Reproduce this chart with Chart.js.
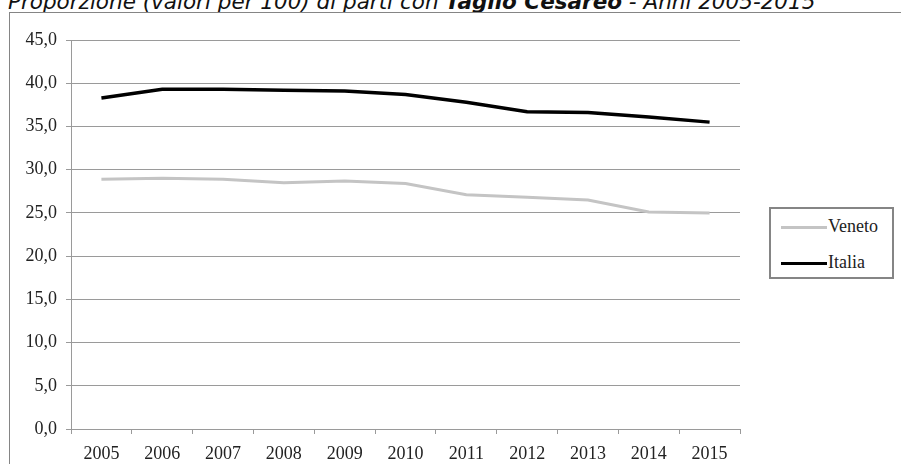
<!DOCTYPE html>
<html>
<head>
<meta charset="utf-8">
<script src="https://cdn.jsdelivr.net/npm/chart.js@4.4.1/dist/chart.umd.min.js"></script>
<style>
  html, body { margin: 0; padding: 0; background: #fff; }
  #wrap { position: relative; width: 901px; height: 464px; overflow: hidden; background: #fff; }
  #title { position: absolute; left: 8px; top: -11px; line-height: 25px; font-family: "DejaVu Sans", Verdana, sans-serif; font-style: italic; font-size: 21.5px; color: #111; white-space: nowrap; }
  #title b { font-weight: bold; }
  #frame { position: absolute; left: 9px; top: 12px; width: 1000px; height: 1000px; border: 1px solid #858585; box-sizing: border-box; }
  #chart { position: absolute; left: 0; top: 0; }
  #legend { position: absolute; left: 769px; top: 207px; width: 125px; height: 72px; border: 2px solid #858585; box-sizing: border-box; background: #fff; font-family: "Liberation Serif", "Times New Roman", serif; font-size: 18px; color: #222; }
  .item { position: absolute; left: 10px; height: 20px; line-height: 20px; white-space: nowrap; }
  .item span.sw { display: inline-block; width: 46px; vertical-align: middle; margin-right: 1px; }
</style>
</head>
<body>
<div id="wrap">
  <div id="title">Proporzione (valori per 100) di parti con <b>Taglio Cesareo</b> - Anni 2005-2015</div>
  <div id="frame"></div>
  <canvas id="chart" width="901" height="464"></canvas>
  <div id="legend"></div>
</div>
<script>
// data
const years = ['2005', '2006', '2007', '2008', '2009', '2010', '2011', '2012', '2013', '2014', '2015'];
const veneto = [28.9, 29.0, 28.9, 28.5, 28.7, 28.4, 27.1, 26.8, 26.5, 25.1, 25.0];
const italia = [38.3, 39.3, 39.3, 39.2, 39.1, 38.7, 37.8, 36.7, 36.6, 36.1, 35.5];
const yTickLabels = ['0,0', '5,0', '10,0', '15,0', '20,0', '25,0', '30,0', '35,0', '40,0', '45,0'];

const gridGray = '#9a9a9a';
const tickFont = { family: 'Liberation Serif', size: 18 };

const chart = new Chart(document.getElementById('chart'), {
    type: 'line',
    data: {
        labels: years,
        datasets: [
            { label: 'Veneto', data: veneto, borderColor: '#c4c4c4', borderWidth: 3, pointRadius: 0, tension: 0, fill: false },
            { label: 'Italia', data: italia, borderColor: '#000000', borderWidth: 3.5, pointRadius: 0, tension: 0, fill: false }
        ]
    },
    options: {
        responsive: false,
        animation: false,
        layout: { padding: { left: 0, top: 40, right: 161, bottom: 0 } },
        plugins: {
            legend: { display: false },
            tooltip: { enabled: false }
        },
        scales: {
            x: {
                type: 'category',
                offset: true,
                grid: { offset: true, drawOnChartArea: false, drawTicks: true, tickLength: 5, color: gridGray },
                border: { display: true, color: gridGray },
                ticks: { color: '#222', font: tickFont, padding: 9, maxRotation: 0, autoSkip: false },
                afterFit: (scale) => { scale.height = 35; }
            },
            y: {
                min: 0,
                max: 45,
                grid: { color: gridGray, tickLength: 5 },
                border: { display: true, color: gridGray },
                ticks: {
                    stepSize: 5,
                    color: '#222',
                    font: tickFont,
                    padding: 9,
                    callback: (v, i) => yTickLabels[i]
                },
                afterFit: (scale) => { scale.width = 71; }
            }
        }
    }
});

// legend built from the datasets
const legend = document.getElementById('legend');
const rows = [7, 43];
chart.data.datasets.forEach((ds, i) => {
    const row = document.createElement('div');
    row.className = 'item';
    row.style.top = rows[i] + 'px';
    const sw = document.createElement('span');
    sw.className = 'sw';
    sw.style.borderTop = ds.borderWidth + 'px solid ' + ds.borderColor;
    row.appendChild(sw);
    row.appendChild(document.createTextNode(ds.label));
    legend.appendChild(row);
});
</script>
</body>
</html>
